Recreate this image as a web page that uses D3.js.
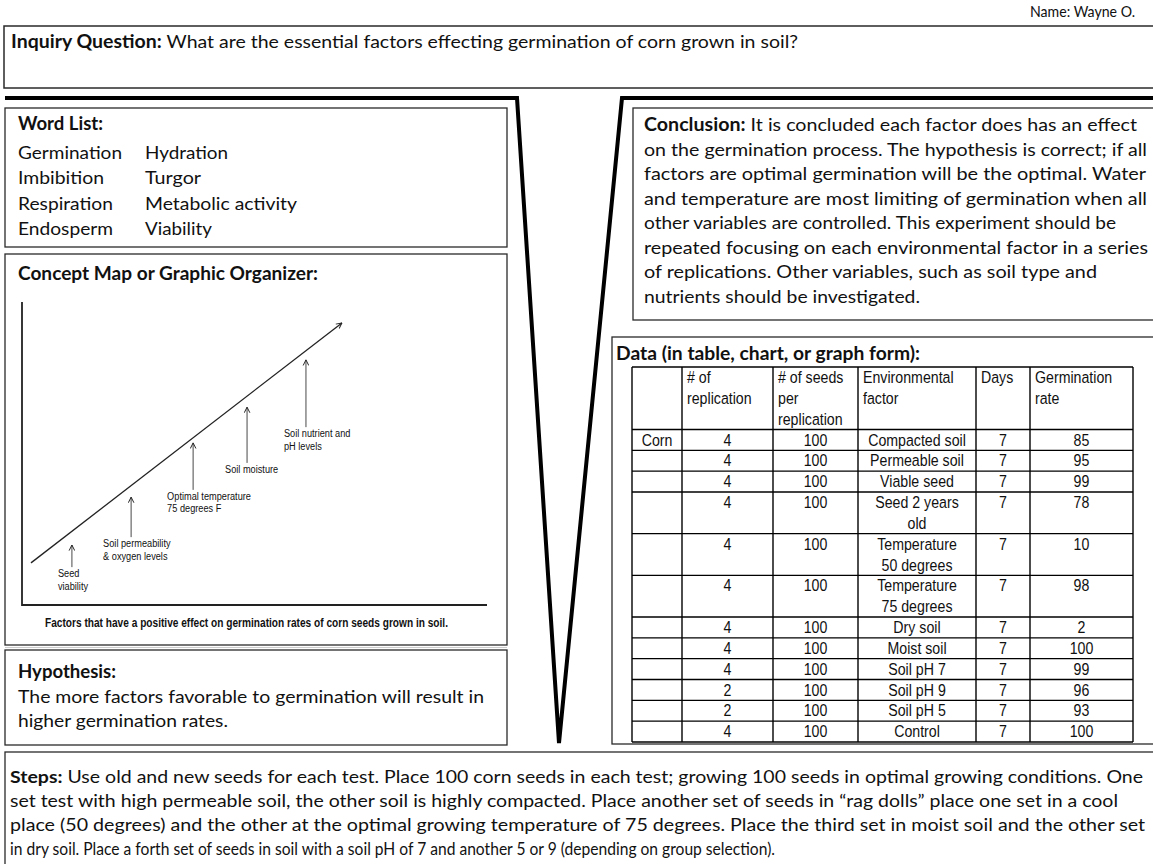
<!DOCTYPE html>
<html>
<head>
<meta charset="utf-8">
<script src="https://cdn.jsdelivr.net/npm/d3@7"></script>
<style>
  body { margin: 0; background: #fff; }
  svg { display: block; }
  .cal { font-family: Lato, "Open Sans", sans-serif; fill: #111; }
  .nar { font-family: "Liberation Sans", Arial, sans-serif; fill: #111; }
</style>
</head>
<body>
<svg id="sheet" width="1153" height="864"></svg>
<script>
const wordsLeft = ["Germination", "Imbibition", "Respiration", "Endosperm"];
const wordsLeftEnds = [122, 104, 113, 113];
const wordsRight = ["Hydration", "Turgor", "Metabolic activity", "Viability"];
const wordsRightEnds = [228, 201, 297, 212];

const conclusionLines = [
  ["Conclusion:", " It is concluded each factor does has an effect"],
  ["", "on the germination process.  The hypothesis is correct; if all"],
  ["", "factors are optimal germination will be the optimal.  Water"],
  ["", "and temperature are most limiting of germination when all"],
  ["", "other variables are controlled. This experiment should be"],
  ["", "repeated focusing on each environmental factor in a series"],
  ["", "of replications. Other variables, such as soil type and"],
  ["", "nutrients should be investigated."]
];
const conclusionEnds = [1137, 1147, 1146, 1147, 1116, 1148, 1097, 920];

const stepsLines = [
  ["Steps:", " Use old and new seeds for each test.  Place 100 corn seeds in each test; growing 100 seeds in optimal growing conditions.  One"],
  ["", "set test with high permeable soil, the other soil is highly compacted. Place another set of seeds in \u201crag dolls\u201d place one set in a cool"],
  ["", "place (50 degrees) and the other at the optimal growing temperature of 75 degrees. Place the third set in moist soil and the other set"],
  ["", "in dry soil. Place a forth set of seeds in soil with a soil pH of 7 and another 5 or 9 (depending on group selection)."]
];
const stepsEnds = [1143, 1118, 1145, 775];

const hypothesisLines = [
  "The more factors favorable to germination will result in",
  "higher germination rates."
];
const hypothesisEnds = [484, 228];

// concept map: factor arrows (x along the rising line, arrow bottom / top)
const conceptLabels = [
  ["Seed", "viability"],
  ["Soil permeability", "& oxygen levels"],
  ["Optimal temperature", "75 degrees F"],
  ["Soil moisture"],
  ["Soil nutrient and", "pH levels"]
];
const conceptX = [1.61, 3.52, 5.52, 7.26, 9.16];
const conceptTop = [1.98, 3.56, 5.35, 6.53, 8.09];
const conceptBottom = [1.25, 2.24, 3.80, 4.69, 5.87];
const trendLine = [[0.29, 1.39], [10.32, 9.31]];

// data table
const tableHeader = [[""], ["# of", "replication"], ["# of seeds", "per", "replication"],
  ["Environmental", "factor"], ["Days"], ["Germination", "rate"]];
const crop = ["Corn", "", "", "", "", "", "", "", "", "", "", ""];
const replications = [4, 4, 4, 4, 4, 4, 4, 4, 4, 2, 2, 4];
const seedsPerRep = [100, 100, 100, 100, 100, 100, 100, 100, 100, 100, 100, 100];
const factors = [["Compacted soil"], ["Permeable soil"], ["Viable seed"], ["Seed 2 years", "old"],
  ["Temperature", "50 degrees"], ["Temperature", "75 degrees"], ["Dry soil"], ["Moist soil"],
  ["Soil pH 7"], ["Soil pH 9"], ["Soil pH 5"], ["Control"]];
const days = [7, 7, 7, 7, 7, 7, 7, 7, 7, 7, 7, 7];
const germRate = [85, 95, 99, 78, 10, 98, 2, 100, 99, 96, 93, 100];

// ---- drawing ----
const svg = d3.select("#sheet");
const boxStroke = "#2a2a2a";
const FS = 18;

function box(x, y, w, h, sw) {
  svg.append("rect").attr("x", x).attr("y", y).attr("width", w).attr("height", h)
    .attr("fill", "none").attr("stroke", boxStroke).attr("stroke-width", sw || 1.3);
}

function line(cls, x, y, bold, rest, x2, size) {
  const t = svg.append("text").attr("class", cls).attr("x", x).attr("y", y)
    .attr("font-size", size);
  if (x2) t.attr("textLength", x2 - x).attr("lengthAdjust", "spacingAndGlyphs");
  if (bold) t.append("tspan").attr("font-weight", "bold").text(bold);
  if (rest) t.append("tspan").text(rest);
  return t;
}

// arial squeezed sideways, stands in for a narrow face
function narrow(parent, x, y, s, size, anchor, sx) {
  return parent.append("text").attr("class", "nar")
    .attr("transform", `translate(${x},${y}) scale(${sx || 0.86},1)`)
    .attr("font-size", size).attr("text-anchor", anchor || "start").text(s);
}

// name + inquiry
line("cal", 1030, 17, "", "Name: Wayne O.", 1135, 16);
box(4, 26, 1160, 62, 1.5);
line("cal", 11, 48, "Inquiry Question:", " What are the essential factors effecting germination of corn grown in soil?", 798, FS);

// the funnel shaped thick lines
svg.append("path")
  .attr("d", d3.line()([[5, 98], [517, 98], [559, 743], [622, 98], [1160, 98]]))
  .attr("fill", "none").attr("stroke", "#000").attr("stroke-width", 4)
  .attr("stroke-linejoin", "miter");

// word list
box(5, 108, 502, 139);
line("cal", 18, 130, "Word List:", "", 103, FS);
wordsLeft.forEach((w, i) => {
  line("cal", 18, 159 + i * 25.3, "", w, wordsLeftEnds[i], FS);
  line("cal", 145, 159 + i * 25.3, "", wordsRight[i], wordsRightEnds[i], FS);
});

// concept map
box(5, 254, 502, 391);
line("cal", 18, 280, "Concept Map or Graphic Organizer:", "", 318, FS);
svg.append("line").attr("x1", 5).attr("x2", 507).attr("y1", 647.5).attr("y2", 647.5)
  .attr("stroke", "#ccc").attr("stroke-width", 1);

const cx = d3.scaleLinear().domain([0, 15]).range([22, 487]);
const cy = d3.scaleLinear().domain([0, 10]).range([605, 302]);

svg.append("defs").append("marker").attr("id", "ah").attr("viewBox", "0 0 10 10")
  .attr("refX", 9).attr("refY", 5).attr("markerWidth", 7).attr("markerHeight", 7)
  .attr("orient", "auto-start-reverse").attr("markerUnits", "userSpaceOnUse")
  .append("path").attr("d", "M1,1 L9,5 L1,9").attr("fill", "none").attr("stroke", "#222").attr("stroke-width", 1.4);

svg.append("path")
  .attr("d", d3.line()([[cx(0), cy(10)], [cx(0), cy(0)], [cx(15), cy(0)]]))
  .attr("fill", "none").attr("stroke", "#222").attr("stroke-width", 1.8);

svg.append("line")
  .attr("x1", cx(trendLine[0][0])).attr("y1", cy(trendLine[0][1]))
  .attr("x2", cx(trendLine[1][0])).attr("y2", cy(trendLine[1][1]))
  .attr("stroke", "#222").attr("stroke-width", 1.3).attr("marker-end", "url(#ah)");

const arrows = svg.append("g").selectAll("g").data(conceptLabels).join("g");
arrows.append("line")
  .attr("x1", (d, i) => cx(conceptX[i])).attr("x2", (d, i) => cx(conceptX[i]))
  .attr("y1", (d, i) => cy(conceptBottom[i])).attr("y2", (d, i) => cy(conceptTop[i]))
  .attr("stroke", "#333").attr("stroke-width", 0.9).attr("marker-end", "url(#ah)");
const labelShift = [-14, -28, -26, -22, -22];
arrows.each(function (d, i) {
  const g = d3.select(this);
  d.forEach((s, j) => {
    narrow(g, cx(conceptX[i]) + labelShift[i], cy(conceptBottom[i]) + 10 + j * 12.5, s, 11.5, "start", 0.8)
      .attr("fill", "#222");
  });
});
line("nar", 45, 627, "", "Factors that have a positive effect on germination rates of corn seeds grown in soil.", 448, 12)
  .attr("font-weight", "bold").attr("fill", "#111");

// hypothesis
box(5, 650, 502, 95);
line("cal", 18, 678, "Hypothesis:", "", 116, FS);
hypothesisLines.forEach((s, i) => line("cal", 18, 703 + i * 24, "", s, hypothesisEnds[i], FS));

// conclusion
box(633, 108, 530, 212);
conclusionLines.forEach((l, i) => line("cal", 644, 131 + i * 24.5, l[0], l[1], conclusionEnds[i], FS));

// data box + table
box(612, 337, 550, 407);
line("cal", 616, 360, "Data (in table, chart, or graph form):", "", 920, FS);

const colEdges = [632, 682, 773, 858, 976, 1030, 1133];
const rowLines = [3].concat(factors.map(f => f.length));
const cum = [0];
rowLines.forEach(n => cum.push(cum[cum.length - 1] + n));
const ty = d3.scaleLinear().domain([0, cum[cum.length - 1]]).range([367, 742]);
const lineH = ty(1) - ty(0);

const tbl = svg.append("g");
tbl.selectAll("line.h").data(cum).join("line").attr("class", "h")
  .attr("x1", colEdges[0]).attr("x2", colEdges[colEdges.length - 1])
  .attr("y1", d => ty(d)).attr("y2", d => ty(d))
  .attr("stroke", "#000").attr("stroke-width", 1.4);
tbl.selectAll("line.v").data(colEdges).join("line").attr("class", "v")
  .attr("x1", d => d).attr("x2", d => d).attr("y1", ty(0)).attr("y2", ty(cum[cum.length - 1]))
  .attr("stroke", "#000").attr("stroke-width", 1.4);

// header
tableHeader.forEach((cell, c) => {
  cell.forEach((s, j) => narrow(tbl, colEdges[c] + 5, ty(0) + 16 + j * lineH, s, 16.5));
});

// body rows
const rows = factors.map((f, i) => [[crop[i]], [replications[i]], [seedsPerRep[i]], f, [days[i]], [germRate[i]]]);
rows.forEach((r, i) => {
  const top = ty(cum[i + 1]);
  r.forEach((cell, c) => {
    cell.forEach((s, j) => narrow(tbl, (colEdges[c] + colEdges[c + 1]) / 2, top + 16 + j * lineH, s, 16.5, "middle"));
  });
});

// steps
box(5, 752, 1160, 120);
stepsLines.forEach((l, i) => line("cal", 10, 783 + i * 24, l[0], l[1], stepsEnds[i], 17));
</script>
</body>
</html>
